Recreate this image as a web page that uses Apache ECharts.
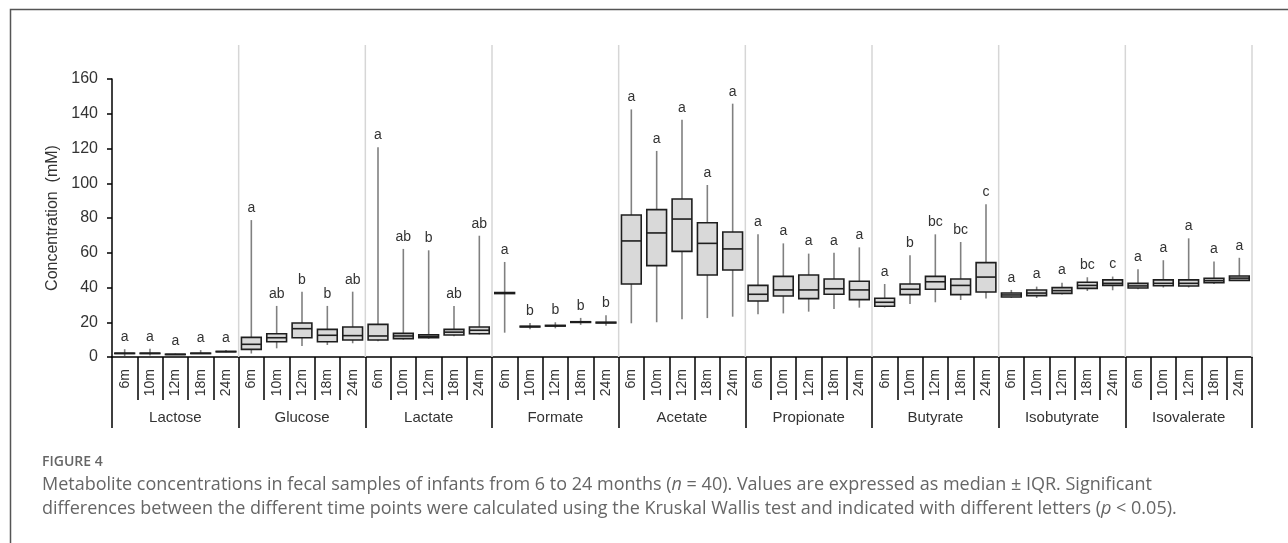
<!DOCTYPE html>
<html>
<head>
<meta charset="utf-8">
<script src="https://cdn.jsdelivr.net/npm/echarts@6/dist/echarts.min.js"></script>
<style>
html,body{margin:0;padding:0;background:#fff;}
#chart{width:1288px;height:543px;}
</style>
</head>
<body>
<div id="chart"></div>
<script>
// ---- data ----
const groups = ['Lactose','Glucose','Lactate','Formate','Acetate','Propionate','Butyrate','Isobutyrate','Isovalerate'];
const months = ['6m','10m','12m','18m','24m'];
const yTicks = [0,20,40,60,80,100,120,140,160];

// per metabolite: [6m, 10m, 12m, 18m, 24m]
const whiskerLow = [
  [0.6, 0.8, 1.2, 2.0, 2.8],
  [2.0, 5.0, 6.3, 6.9, 7.9],
  [9.0, 10.0, 10.5, 12.0, 13.0],
  [14.0, 16.0, 16.5, 18.5, 18.0],
  [19.4, 20.0, 21.7, 22.4, 23.2],
  [24.6, 25.1, 26.1, 27.6, 28.4],
  [28.5, 30.5, 31.5, 32.8, 33.6],
  [34.0, 34.0, 36.0, 38.0, 38.4],
  [39.0, 40.0, 40.0, 42.0, 44.0]
];
const q1 = [
  [2.0, 2.0, 1.4, 2.0, 3.0],
  [4.4, 8.8, 11.1, 8.8, 9.8],
  [9.8, 10.6, 11.1, 12.7, 13.4],
  [36.5, 17.3, 17.8, 19.9, 19.6],
  [42.0, 52.6, 60.8, 47.2, 50.1],
  [32.2, 35.1, 33.6, 36.1, 33.0],
  [29.2, 35.9, 39.0, 35.9, 37.4],
  [34.5, 35.3, 36.6, 39.5, 41.2],
  [39.7, 41.0, 40.9, 42.8, 44.1]
];
const median = [
  [2.1, 2.1, 1.5, 2.1, 3.1],
  [7.3, 11.1, 16.3, 12.5, 12.3],
  [12.1, 12.1, 11.9, 14.3, 15.4],
  [36.8, 17.5, 18.0, 20.1, 19.8],
  [66.8, 71.4, 79.4, 65.4, 62.2],
  [36.1, 38.6, 38.6, 39.3, 38.6],
  [31.5, 39.0, 43.3, 41.2, 46.0],
  [35.7, 36.8, 38.2, 41.2, 42.4],
  [40.9, 42.4, 42.4, 44.0, 45.4]
];
const q3 = [
  [2.2, 2.2, 1.6, 2.2, 3.2],
  [11.3, 13.4, 19.6, 15.9, 17.3],
  [18.8, 13.6, 12.8, 15.9, 17.3],
  [37.1, 17.7, 18.2, 20.3, 20.0],
  [81.7, 84.8, 90.9, 77.3, 71.9],
  [41.2, 46.4, 47.2, 44.9, 43.6],
  [33.8, 42.0, 46.4, 44.9, 54.3],
  [36.8, 38.6, 39.9, 43.0, 44.4],
  [42.4, 44.4, 44.4, 45.3, 46.6]
];
const whiskerHigh = [
  [4.5, 4.8, 2.0, 4.0, 4.0],
  [78.8, 29.4, 37.6, 29.4, 37.6],
  [120.7, 62.2, 61.4, 29.4, 69.8],
  [54.7, 19.5, 20.0, 22.5, 24.0],
  [142.5, 118.6, 136.6, 99.0, 145.8],
  [70.6, 65.4, 59.5, 60.0, 63.1],
  [42.0, 58.5, 70.6, 66.2, 87.9],
  [38.6, 40.5, 42.8, 45.9, 46.3],
  [50.5, 55.7, 68.3, 54.9, 57.1]
];
const letters = [
  ['a','a','a','a','a'],
  ['a','ab','b','b','ab'],
  ['a','ab','b','ab','ab'],
  ['a','b','b','b','b'],
  ['a','a','a','a','a'],
  ['a','a','a','a','a'],
  ['a','b','bc','bc','c'],
  ['a','a','a','bc','c'],
  ['a','a','a','a','a']
];

// ---- build ----
const categories = [];
const boxData = [];
const letterList = [];
groups.forEach((g, gi) => {
  months.forEach((m, mi) => {
    const idx = categories.length;
    categories.push(g + '|' + m);
    boxData.push([idx, whiskerLow[gi][mi], q1[gi][mi], median[gi][mi], q3[gi][mi], whiskerHigh[gi][mi]]);
    letterList.push(letters[gi][mi]);
  });
});
// group boundary lines: first category of groups 2..9 (left side) and last category (right side)
const boundaryData = [];
for (let gi = 1; gi < groups.length; gi++) boundaryData.push([gi * months.length, -1]);
boundaryData.push([categories.length - 1, 1]);

const FONT = '"Liberation Sans", Arial, sans-serif';
const TXT = '#333';

const chart = echarts.init(document.getElementById('chart'), null, {renderer: 'canvas'});
chart.setOption({
  animation: false,
  backgroundColor: '#fff',
  grid: {left: 112, right: 36, top: 79, bottom: 186, containLabel: false},
  xAxis: [
    {
      type: 'category',
      data: categories,
      position: 'bottom',
      axisLine: {show: true, lineStyle: {color: '#000', width: 1.5}},
      axisTick: {show: true, interval: 0, length: 43, lineStyle: {color: '#000', width: 1.5}},
      axisLabel: {
        interval: 0, rotate: 90, margin: 12, fontSize: 14, color: TXT, fontFamily: FONT,
        formatter: v => v.split('|')[1]
      },
      splitLine: {show: false}
    },
    {
      type: 'category',
      data: groups,
      position: 'bottom',
      offset: 0,
      axisLine: {show: false},
      axisTick: {show: true, interval: 0, length: 71, lineStyle: {color: '#000', width: 1.5}},
      axisLabel: {interval: 0, margin: 53, fontSize: 15, color: TXT, fontFamily: FONT},
      splitLine: {show: false}
    }
  ],
  yAxis: {
    type: 'value',
    min: 0, max: 160, interval: 20,
    name: 'Concentration  (mM)',
    nameLocation: 'middle',
    nameGap: 42,
    nameTextStyle: {fontSize: 16, color: TXT, fontFamily: FONT},
    axisLine: {show: true, lineStyle: {color: '#000', width: 1.5}},
    axisTick: {show: true, length: 5, lineStyle: {color: '#000', width: 1.5}},
    axisLabel: {margin: 14, fontSize: 16, color: TXT, fontFamily: FONT},
    splitLine: {show: false}
  },
  graphic: [
    {type: 'rect', left: 8, top: 7, z: -10, silent: true,
     shape: {width: 1400, height: 700}, style: {fill: 'none', stroke: '#555', lineWidth: 1.5}},
    {type: 'text', left: 42, top: 455,
     style: {text: 'FIGURE 4', font: '600 14px "Open Sans", sans-serif', fill: '#666'}},
    {type: 'text', left: 42, top: 473,
     style: {
       text: 'Metabolite concentrations in fecal samples of infants from 6 to 24 months ({i|n} = 40). Values are expressed as median ± IQR. Significant\ndifferences between the different time points were calculated using the Kruskal Wallis test and indicated with different letters ({i|p} < 0.05).',
       font: '18px "Open Sans", sans-serif', fill: '#666', lineHeight: 24,
       rich: {i: {fontStyle: 'italic', fontSize: 18, fontFamily: '"Open Sans", sans-serif', fill: '#666', lineHeight: 24}}
     }}
  ],
  series: [
    {
      type: 'custom',
      xAxisIndex: 0,
      clip: false,
      z: 1,
      data: boundaryData,
      renderItem: (params, api) => {
        const i = api.value(0);
        const side = api.value(1);
        const band = api.size([1, 0])[0];
        const p0 = api.coord([i, 0]);
        const pTop = api.coord([i, 160]);
        const x = p0[0] + side * band / 2;
        return {
          type: 'line',
          shape: {x1: x, y1: p0[1], x2: x, y2: pTop[1] - 34},
          style: {stroke: '#d6d6d6', lineWidth: 1.5}
        };
      }
    },
    {
      type: 'custom',
      xAxisIndex: 0,
      clip: false,
      z: 2,
      data: boxData,
      renderItem: (params, api) => {
        const i = api.value(0);
        const lo = api.coord([i, api.value(1)]);
        const b1 = api.coord([i, api.value(2)]);
        const md = api.coord([i, api.value(3)]);
        const b3 = api.coord([i, api.value(4)]);
        const hi = api.coord([i, api.value(5)]);
        const band = api.size([1, 0])[0];
        const w = band * 0.78;
        const x = lo[0];
        return {
          type: 'group',
          children: [
            {type: 'line', shape: {x1: x, y1: lo[1], x2: x, y2: hi[1]},
             style: {stroke: '#808080', lineWidth: 1.6}},
            {type: 'rect', shape: {x: x - w / 2, y: b3[1], width: w, height: Math.max(b1[1] - b3[1], 0)},
             style: {fill: '#d9d9d9', stroke: '#1e1e1e', lineWidth: 1.6}},
            {type: 'line', shape: {x1: x - w / 2, y1: md[1], x2: x + w / 2, y2: md[1]},
             style: {stroke: '#1e1e1e', lineWidth: 1.6}},
            {type: 'text', x: x, y: hi[1] - 5,
             style: {text: letterList[params.dataIndex], align: 'center', verticalAlign: 'bottom',
                     font: '14px "Liberation Sans", Arial, sans-serif', fill: TXT}}
          ]
        };
      }
    }
  ]
});
</script>
</body>
</html>
